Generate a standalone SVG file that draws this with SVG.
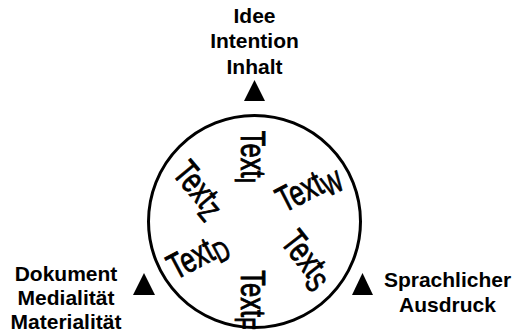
<svg xmlns="http://www.w3.org/2000/svg" width="516" height="332" viewBox="0 0 516 332">
<style>
.lab{font-family:"Liberation Sans",Arial,sans-serif;font-weight:bold;font-size:21px;fill:#000;text-anchor:middle}
.in{font-family:"Liberation Sans",Arial,sans-serif;font-size:36px;fill:#000;stroke:#000;stroke-width:0.9;text-anchor:middle}
.sub{font-size:29px}
.tri{fill:#000}
</style>
<rect width="516" height="332" fill="#fff"/>
<g id="circle"><circle cx="254.5" cy="221.5" r="106" fill="none" stroke="#000" stroke-width="3"/></g>
<g id="connectors">
<polygon class="tri" points="244,101 265,101 254.5,80"/>
<polygon class="tri" points="133,295 155,295 144,273"/>
<polygon class="tri" points="352,295 373,295 362.5,273"/>
</g>
<g id="top"><text class="lab" x="254.5" y="23">Idee</text><text class="lab" x="254.5" y="48">Intention</text><text class="lab" x="254.5" y="74">Inhalt</text></g>
<g id="left"><text class="lab" x="66" y="281">Dokument</text><text class="lab" x="66" y="305">Medialität</text><text class="lab" x="66" y="329">Materialität</text></g>
<g id="right"><text class="lab" x="447.5" y="287">Sprachlicher</text><text class="lab" x="447.5" y="312">Ausdruck</text></g>
<g id="textI" transform="translate(251,157) rotate(90) scale(0.71,1)"><text class="in" y="10">Text<tspan class="sub" dy="6">I</tspan></text></g>
<g id="textF" transform="translate(251.5,300) rotate(90) scale(0.71,1)"><text class="in" y="10">Text<tspan class="sub" dy="6">F</tspan></text></g>
<g id="textZ" transform="translate(198,190) rotate(50) scale(0.71,1)"><text class="in" y="10">Text<tspan class="sub" dy="6">Z</tspan></text></g>
<g id="textW" transform="translate(309,189) rotate(-27) scale(0.71,1)"><text class="in" y="10">Text<tspan class="sub" dy="6">W</tspan></text></g>
<g id="textD" transform="translate(198,257) rotate(-28) scale(0.71,1)"><text class="in" y="10">Text<tspan class="sub" dy="6">D</tspan></text></g>
<g id="textS" transform="translate(306,260) rotate(52) scale(0.71,1)"><text class="in" y="10">Text<tspan class="sub" dy="6">S</tspan></text></g>
</svg>
